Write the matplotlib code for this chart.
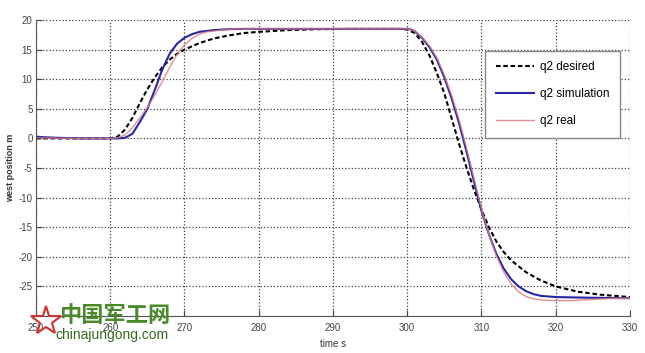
import matplotlib
matplotlib.use("Agg")
import matplotlib.pyplot as plt
from matplotlib.lines import Line2D

# q2 desired (black dashed)
t_des = [250, 260, 261, 262, 263, 264, 265, 266, 267, 268, 269, 270, 272, 274, 276, 278, 280,
         284, 288, 292, 296, 299, 300, 301, 302, 303, 304, 305, 306, 307, 308, 309, 310, 311,
         312, 313, 314, 316, 318, 320, 323, 326, 330]
q_des = [0, 0, 0.3, 1.5, 3.5, 6.0, 8.3, 10.3, 12.0, 13.3, 14.3, 15.0, 16.1, 16.9, 17.4, 17.8, 18.0,
         18.3, 18.45, 18.5, 18.5, 18.5, 18.4, 17.8, 16.3, 14.0, 11.0, 7.6, 3.3, -1.0, -5.0, -8.7,
         -12.0, -15.0, -17.4, -19.2, -20.6, -22.6, -24.0, -25.0, -25.9, -26.4, -26.8]

# q2 simulation (blue)
t_sim = [250, 251, 253, 256, 259, 261, 262, 263, 264, 265, 266, 267, 268, 269, 270, 271, 272,
         274, 276, 278, 282, 290, 300, 300.5, 301, 302, 303, 304, 305, 306, 307, 308, 309, 310,
         311, 312, 313, 314, 315, 316, 317, 318, 320, 324, 330]
q_sim = [0.3, 0.2, 0.1, 0.0, 0.0, 0.0, 0.1, 0.8, 2.8, 5.0, 8.2, 11.6, 14.3, 16.0, 17.0, 17.6, 18.0,
         18.3, 18.45, 18.5, 18.5, 18.5, 18.5, 18.4, 18.1, 17.0, 15.4, 13.3, 10.3, 6.7, 2.5, -2.3,
         -7.3, -12.2, -16.2, -19.5, -22.0, -23.8, -25.0, -25.8, -26.3, -26.6, -26.8, -26.9, -27.0]

# q2 real (pink)
t_real = [250, 255, 259, 260, 261, 262, 263, 264, 265, 266, 267, 268, 269, 270, 271, 272, 273,
          275, 277, 280, 290, 300, 300.5, 301, 302, 303, 304, 305, 306, 307, 308, 309, 310, 311,
          312, 313, 314, 315, 316, 317, 318, 320, 322, 325, 328, 330]
q_real = [0.1, 0.0, 0.0, 0.0, 0.1, 0.6, 1.8, 3.5, 5.2, 7.3, 9.6, 12.0, 14.2, 15.8, 16.9, 17.6, 18.0,
          18.3, 18.5, 18.5, 18.5, 18.5, 18.4, 18.1, 17.1, 15.6, 13.6, 10.7, 7.2, 3.1, -1.7, -6.8,
          -11.9, -16.2, -19.8, -22.6, -24.6, -25.9, -26.7, -27.1, -27.3, -27.4, -27.4, -27.2,
          -27.0, -27.0]

x_ticks = list(range(250, 331, 10))
y_ticks = list(range(-25, 21, 5))

plt.rcParams['font.family'] = ['Liberation Sans', 'DejaVu Sans']
plt.rcParams['axes.unicode_minus'] = False

fig = plt.figure(figsize=(6.45, 3.53), dpi=100)
ax = fig.add_axes([0.0558, 0.1048, 0.9209, 0.8385])

ax.plot(t_des, q_des, color='black', lw=1.5, ls=(0, (2.2, 1.3)), label='q2 desired')
ax.plot(t_sim, q_sim, color='#2626a6', lw=1.5, label='q2 simulation')
ax.plot(t_real, q_real, color='#e07a80', lw=1.0, alpha=0.85, label='q2 real')

ax.set_xlim(250, 330)
ax.set_ylim(-30, 20)
ax.set_xticks(x_ticks)
ax.set_yticks(y_ticks)
ax.grid(True, color='#444444', ls=(0, (1, 1.6)), lw=0.9)
ax.spines['top'].set_visible(False)
ax.spines['right'].set_visible(False)
ax.spines['left'].set_color('#555555')
ax.spines['bottom'].set_color('#555555')
ax.tick_params(direction='in', length=4, labelsize=7, colors='#444444', pad=5)
ax.tick_params(axis='y', pad=2.5)

ax.set_xlabel('time s', fontsize=7, color='#333333', labelpad=4)
ax.set_ylabel('west position m', fontsize=6.5, fontweight='bold', color='#333333')
ax.yaxis.set_label_coords(-0.036, 0.5)

leg = ax.legend(loc='upper right', bbox_to_anchor=(0.993, 0.916), fontsize=8.5,
                labelspacing=1.25, handlelength=3.2, handletextpad=0.5, borderpad=0.9,
                fancybox=False, framealpha=1, edgecolor='#888888')
leg.get_frame().set_linewidth(1.0)

# watermark
fig.text(0.178, 0.105, '中国军工网', fontsize=16, color='#4a8a2a', fontweight='bold',
         family=['Noto Sans CJK SC', 'DejaVu Sans'], ha='center', va='center')
fig.text(0.174, 0.052, 'chinajungong.com', fontsize=10, color='#2f6b1f',
         family=['Liberation Sans', 'DejaVu Sans'], ha='center', va='center')
fig.add_artist(Line2D([0.072], [0.09], marker='*', markersize=22, markerfacecolor='none',
                      markeredgecolor='#d03030', markeredgewidth=1.5, transform=fig.transFigure))

fig.savefig('out.png', dpi=100)
